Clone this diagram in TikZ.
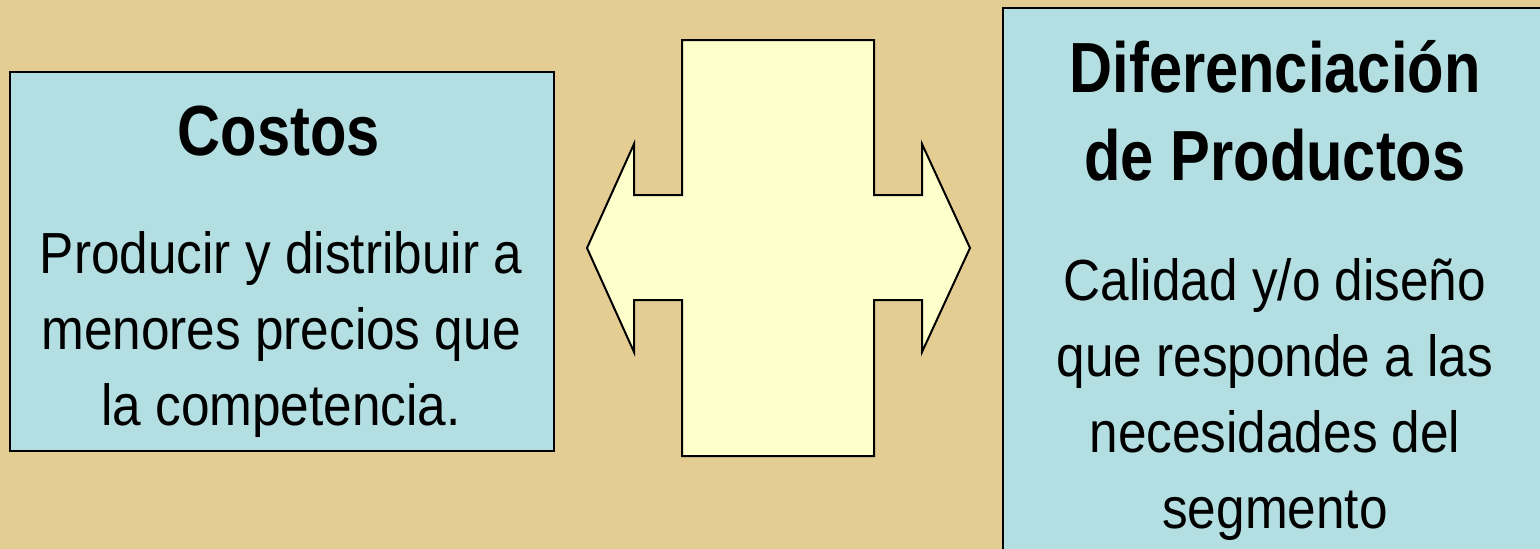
\documentclass[tikz,border=0pt]{standalone}
\usepackage{fontspec}
\setmainfont[FakeStretch=0.885]{Liberation Sans}
\newfontfamily\headfont[FakeStretch=0.84]{Liberation Sans}
\definecolor{sand}{HTML}{E3CD93}
\definecolor{aqua}{HTML}{B3DFE3}
\definecolor{cream}{HTML}{FFFFCC}
\tikzset{
  panel/.style={draw=black, line width=2pt, fill=aqua},
  head/.style={font=\headfont\bfseries\fontsize{71}{88}\selectfont, align=center, inner sep=0pt, anchor=base},
  body/.style={font=\fontsize{58}{76}\selectfont, align=center, inner sep=0pt, anchor=base}
}
\begin{document}
\begin{tikzpicture}[x=1pt, y=-1pt]
\fill[sand] (0,0) rectangle (1540,549);
\useasboundingbox (0,0) rectangle (1540,549);
% the two boxes
\draw[panel] (10,72) rectangle (554,451);
\begin{scope}
\clip (0,0) rectangle (1540,549);
\draw[panel] (1003,8) rectangle (1560,570);
\end{scope}
% double arrow in the middle
\draw[line width=2pt, fill=cream, line join=miter]
  (682,40) -- (874,40) -- (874,195) -- (922,195) -- (922,144) -- (970,248)
  -- (922,352) -- (922,300) -- (874,300) -- (874,456) -- (682,456) -- (682,300)
  -- (634,300) -- (634,352) -- (587,248) -- (634,144) -- (634,195) -- (682,195) -- cycle;
% texts (base = last line)
\node[head] (costos) at (279,155) {Costos};
\node[body] (costosdesc) at (281,425) {Producir y distribuir a\\menores precios que\\la competencia.};
\node[head] (difer) at (1275,180) {Diferenciación\\de Productos};
\node[body] (diferdesc) at (1275,528) {Calidad y/o diseño\\que responde a las\\necesidades del\\segmento};
\end{tikzpicture}
\end{document}
